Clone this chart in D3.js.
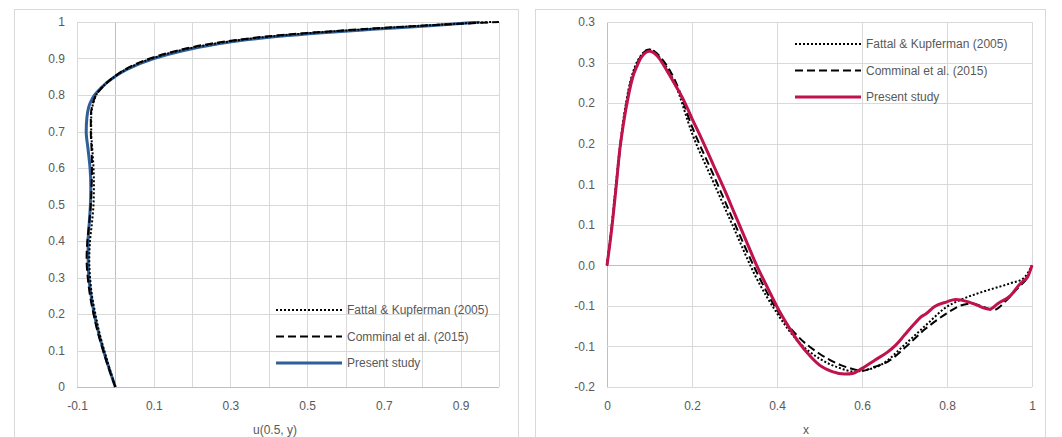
<!DOCTYPE html>
<html>
<head>
<meta charset="utf-8">
<script src="https://cdn.jsdelivr.net/npm/d3@7"></script>
<style>
  body { margin: 0; background: #fff; }
  text { font-family: "Liberation Sans", Arial, sans-serif; fill: #595959; }
</style>
</head>
<body>
<svg id="chart" width="1062" height="437"></svg>
<script>
// ---- left chart: u(0.5, y) against y ----
var yLeft = [0, 0.05, 0.1, 0.15, 0.2, 0.25, 0.3, 0.35, 0.4, 0.45, 0.5, 0.55, 0.6, 0.65, 0.7,
             0.74, 0.78, 0.8, 0.82, 0.85, 0.87, 0.9, 0.92, 0.94, 0.95, 0.96, 0.97, 0.98, 0.99, 1.0];
var uFattal = [0, -0.015, -0.029, -0.042, -0.052, -0.061, -0.066, -0.068, -0.066, -0.061, -0.057,
               -0.056, -0.057, -0.06, -0.063, -0.063, -0.057, -0.05, -0.036, -0.002, 0.028, 0.095,
               0.16, 0.255, 0.32, 0.4, 0.51, 0.65, 0.8, 0.98];
var uComminal = [0, -0.017, -0.032, -0.046, -0.057, -0.066, -0.072, -0.075, -0.073, -0.068, -0.064,
                 -0.062, -0.061, -0.062, -0.064, -0.064, -0.058, -0.05, -0.035, -0.003, 0.025, 0.09,
                 0.155, 0.245, 0.31, 0.39, 0.5, 0.64, 0.8, 1.0];
var uPresent = [0, -0.016, -0.031, -0.044, -0.055, -0.063, -0.069, -0.071, -0.071, -0.068, -0.065,
                -0.064, -0.066, -0.071, -0.076, -0.074, -0.065, -0.054, -0.037, -0.002, 0.03, 0.1,
                0.17, 0.265, 0.33, 0.42, 0.53, 0.67, 0.82, 0.95];

var leftXTicks = [-0.1, 0, 0.1, 0.2, 0.3, 0.4, 0.5, 0.6, 0.7, 0.8, 0.9, 1.0];
var leftXLabels = [-0.1, 0.1, 0.3, 0.5, 0.7, 0.9];
var leftYTicks = [0, 0.1, 0.2, 0.3, 0.4, 0.5, 0.6, 0.7, 0.8, 0.9, 1.0];

// ---- right chart: v against x ----
var xFattal = [0, 0.01, 0.02, 0.03, 0.05, 0.07, 0.1, 0.13, 0.16, 0.2, 0.25, 0.3, 0.35, 0.4, 0.45,
               0.5, 0.55, 0.58, 0.6, 0.65, 0.7, 0.75, 0.8, 0.83, 0.87, 0.9, 0.95, 0.98, 1.0];
var vFattal = [0, 0.045, 0.095, 0.145, 0.215, 0.25, 0.266, 0.252, 0.224, 0.163, 0.103, 0.044, -0.014,
               -0.059, -0.094, -0.115, -0.127, -0.131, -0.13, -0.121, -0.098, -0.074, -0.051, -0.043,
               -0.035, -0.03, -0.022, -0.016, 0];
var xComminal = [0, 0.01, 0.02, 0.03, 0.05, 0.07, 0.1, 0.13, 0.16, 0.2, 0.25, 0.3, 0.35, 0.4, 0.45,
                 0.5, 0.55, 0.58, 0.6, 0.63, 0.66, 0.7, 0.75, 0.8, 0.83, 0.86, 0.88, 0.91, 0.94,
                 0.97, 0.99, 1.0];
var vComminal = [0, 0.042, 0.09, 0.14, 0.212, 0.248, 0.266, 0.254, 0.228, 0.171, 0.112, 0.052, -0.006,
                 -0.055, -0.088, -0.109, -0.123, -0.128, -0.13, -0.125, -0.119, -0.102, -0.078,
                 -0.059, -0.05, -0.047, -0.05, -0.055, -0.043, -0.026, -0.014, 0];
var xPresent = [0, 0.01, 0.02, 0.03, 0.04, 0.05, 0.06, 0.07, 0.08, 0.09, 0.1, 0.11, 0.12, 0.14, 0.16,
                0.18, 0.2, 0.22, 0.25, 0.28, 0.3, 0.33, 0.35, 0.38, 0.4, 0.43, 0.45, 0.48, 0.5, 0.53,
                0.56, 0.58, 0.6, 0.63, 0.66, 0.68, 0.7, 0.72, 0.74, 0.75, 0.77, 0.8, 0.82, 0.85, 0.87,
                0.9, 0.92, 0.95, 0.97, 0.98, 0.99, 1.0];
var vPresent = [0, 0.04, 0.089, 0.142, 0.179, 0.208, 0.231, 0.245, 0.256, 0.262, 0.264, 0.262, 0.257,
                0.241, 0.223, 0.204, 0.181, 0.159, 0.124, 0.089, 0.064, 0.027, 0.0025, -0.03, -0.051,
                -0.078, -0.094, -0.113, -0.123, -0.131, -0.134, -0.133, -0.127, -0.117, -0.107,
                -0.098, -0.086, -0.074, -0.063, -0.06, -0.051, -0.045, -0.042, -0.045, -0.049,
                -0.054, -0.047, -0.037, -0.024, -0.019, -0.014, 0];

var rightXTicks = [0, 0.2, 0.4, 0.6, 0.8, 1.0];
var rightYTicks = [-0.15, -0.1, -0.05, 0, 0.05, 0.1, 0.15, 0.2, 0.25, 0.3];
var rightYLabels = ["-0.2", "-0.1", "-0.1", "0.0", "0.1", "0.1", "0.2", "0.2", "0.3", "0.3"];

var seriesNames = ["Fattal & Kupferman (2005)", "Comminal et al. (2015)", "Present study"];

var gridColor = "#d9d9d9",
    axisColor = "#bfbfbf",
    blue = "#2f5f98",
    crimson = "#c0134b";

var svg = d3.select("#chart");

// chart area frames
svg.append("rect").attr("x", 14.5).attr("y", 9.5).attr("width", 504).attr("height", 460)
    .style("fill", "none").style("stroke", gridColor);
svg.append("rect").attr("x", 535.5).attr("y", 9.5).attr("width", 510).attr("height", 460)
    .style("fill", "none").style("stroke", gridColor);

function styleLine(sel, kind, color) {
  sel.style("fill", "none").style("stroke", color);
  if (kind == "dot") sel.style("stroke-width", 2).style("stroke-dasharray", "2,2");
  else if (kind == "dash") sel.style("stroke-width", 2).style("stroke-dasharray", "8,4");
  else sel.style("stroke-width", 3);
  return sel;
}

function legend(g, x0, y0, kinds, colors) {
  kinds.forEach(function(k, i) {
    var y = y0 + i * 26.5;
    styleLine(g.append("line").attr("x1", x0).attr("x2", x0 + 66)
        .attr("y1", y).attr("y2", y), k, colors[i]);
    g.append("text").attr("x", x0 + 71).attr("y", y).attr("dy", "0.35em")
        .style("font-size", "12px").text(seriesNames[i]);
  });
}

// ================= left chart =================
var xL = d3.scaleLinear().domain([-0.1, 1.0]).range([77, 499]);
var yL = d3.scaleLinear().domain([0, 1]).range([387, 22]);
var gL = svg.append("g");

gL.selectAll(".vgrid").data(leftXTicks).enter().append("line")
    .attr("x1", function(d) { return Math.round(xL(d)) + 0.5; })
    .attr("x2", function(d) { return Math.round(xL(d)) + 0.5; })
    .attr("y1", yL(1)).attr("y2", yL(0))
    .style("stroke", function(d) { return d == 0 ? axisColor : gridColor; });
gL.selectAll(".hgrid").data(leftYTicks).enter().append("line")
    .attr("x1", xL(-0.1)).attr("x2", xL(1.0))
    .attr("y1", function(d) { return Math.round(yL(d)) + 0.5; })
    .attr("y2", function(d) { return Math.round(yL(d)) + 0.5; })
    .style("stroke", function(d) { return d == 0 ? axisColor : gridColor; });

var axLY = gL.append("g").attr("transform", "translate(" + (xL(-0.1) - 9) + ",0)")
    .call(d3.axisLeft(yL).tickValues(leftYTicks).tickSize(0)
      .tickFormat(function(d) { return String(+d.toFixed(1)); }));
var axLX = gL.append("g").attr("transform", "translate(0," + (yL(0) + 11) + ")")
    .call(d3.axisBottom(xL).tickValues(leftXLabels).tickSize(0)
      .tickFormat(function(d) { return String(+d.toFixed(1)); }));
[axLY, axLX].forEach(function(a) {
  a.select(".domain").remove();
  a.selectAll("text").style("font-size", "12px").style("fill", "#595959")
      .style("font-family", "Liberation Sans, Arial, sans-serif");
});

gL.append("text").attr("x", 275).attr("y", 430).attr("dy", "0.35em")
    .attr("text-anchor", "middle").style("font-size", "12px").text("u(0.5, y)");

var lineL = function(us) {
  return d3.line()
    .x(function(d, i) { return xL(us[i]); })
    .y(function(d) { return yL(d); })
    .curve(d3.curveMonotoneY)(yLeft);
};
styleLine(gL.append("path").attr("d", lineL(uPresent)), "solid", blue);
styleLine(gL.append("path").attr("d", lineL(uFattal)), "dot", "#000");
styleLine(gL.append("path").attr("d", lineL(uComminal)), "dash", "#000");

legend(gL, 276, 310, ["dot", "dash", "solid"], ["#000", "#000", blue]);

// ================= right chart =================
var xR = d3.scaleLinear().domain([0, 1]).range([607, 1032]);
var yR = d3.scaleLinear().domain([-0.15, 0.30]).range([387, 22]);
var gR = svg.append("g");

gR.selectAll(".vgrid").data(rightXTicks).enter().append("line")
    .attr("x1", function(d) { return Math.round(xR(d)) + 0.5; })
    .attr("x2", function(d) { return Math.round(xR(d)) + 0.5; })
    .attr("y1", yR(0.30)).attr("y2", yR(-0.15))
    .style("stroke", function(d) { return d == 0 ? axisColor : gridColor; });
gR.selectAll(".hgrid").data(rightYTicks).enter().append("line")
    .attr("x1", xR(0)).attr("x2", xR(1))
    .attr("y1", function(d) { return Math.round(yR(d)) + 0.5; })
    .attr("y2", function(d) { return Math.round(yR(d)) + 0.5; })
    .style("stroke", function(d) { return d == 0 ? axisColor : gridColor; });

var axRY = gR.append("g").attr("transform", "translate(" + (xR(0) - 9) + ",0)")
    .call(d3.axisLeft(yR).tickValues(rightYTicks).tickSize(0)
      .tickFormat(function(d, i) { return rightYLabels[i]; }));
var axRX = gR.append("g").attr("transform", "translate(0," + (yR(-0.15) + 11) + ")")
    .call(d3.axisBottom(xR).tickValues(rightXTicks).tickSize(0)
      .tickFormat(function(d) { return String(+d.toFixed(1)); }));
[axRY, axRX].forEach(function(a) {
  a.select(".domain").remove();
  a.selectAll("text").style("font-size", "12px").style("fill", "#595959")
      .style("font-family", "Liberation Sans, Arial, sans-serif");
});

gR.append("text").attr("x", 806).attr("y", 430).attr("dy", "0.35em")
    .attr("text-anchor", "middle").style("font-size", "12px").text("x");

var lineR = function(xs, vs) {
  return d3.line()
    .x(function(d) { return xR(d); })
    .y(function(d, i) { return yR(vs[i]); })
    .curve(d3.curveMonotoneX)(xs);
};
styleLine(gR.append("path").attr("d", lineR(xFattal, vFattal)), "dot", "#000");
styleLine(gR.append("path").attr("d", lineR(xComminal, vComminal)), "dash", "#000");
styleLine(gR.append("path").attr("d", lineR(xPresent, vPresent)), "solid", crimson);

legend(gR, 795, 44, ["dot", "dash", "solid"], ["#000", "#000", crimson]);
</script>
</body>
</html>
